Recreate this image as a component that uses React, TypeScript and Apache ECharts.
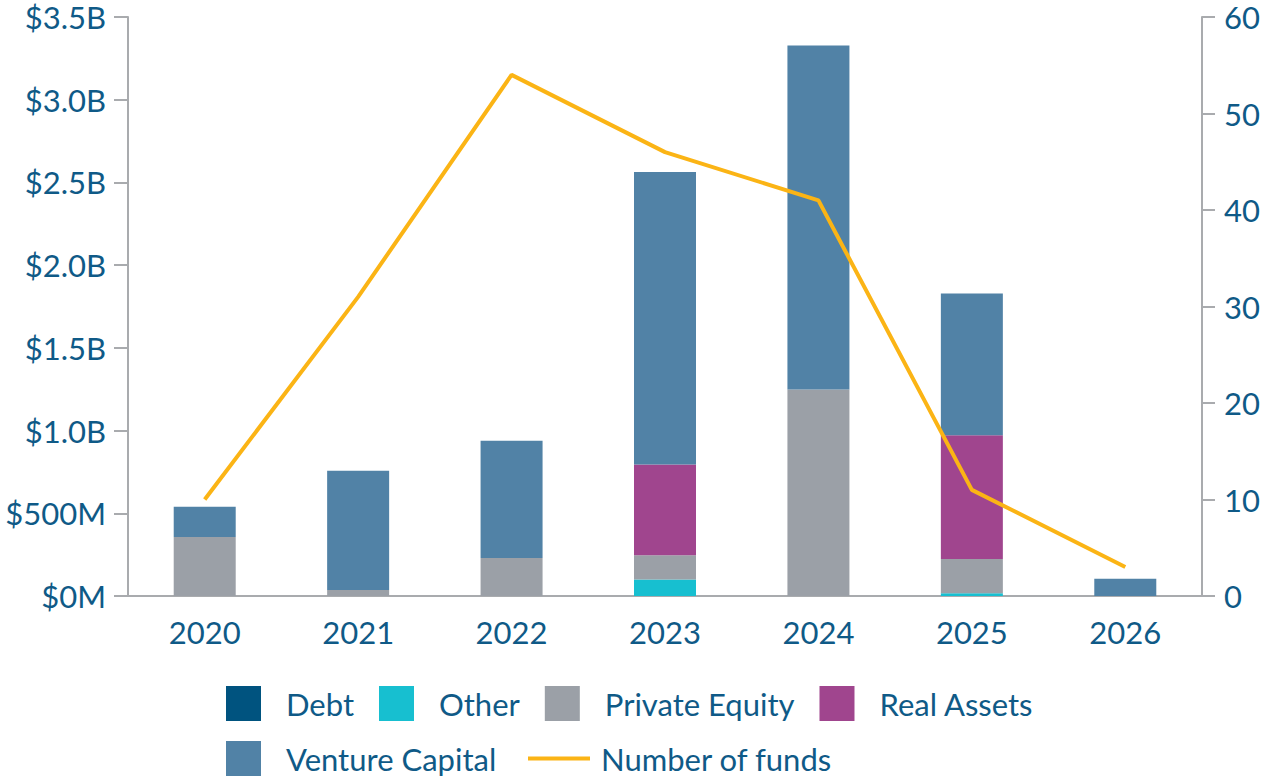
import React, { useEffect, useRef } from "react";
import * as echarts from "echarts";

const years = ["2020", "2021", "2022", "2023", "2024", "2025", "2026"];
// values in $ billions
const debt = [0, 0, 0, 0, 0, 0, 0];
const other = [0, 0, 0, 0.099, 0, 0.016, 0];
const privateEquity = [0.357, 0.036, 0.23, 0.147, 1.248, 0.208, 0];
const realAssets = [0, 0, 0, 0.549, 0, 0.748, 0];
const ventureCapital = [0.182, 0.721, 0.709, 1.768, 2.079, 0.857, 0.105];
const numberOfFunds = [10, 31, 54, 46, 41, 11, 3];

const TEXT = "#0f5a87";
const AXIS = "#a9abae";
const FONT = "Lato";

const COLORS = {
  debt: "#00537f",
  other: "#17bfd0",
  pe: "#9ba0a7",
  ra: "#a0458e",
  vc: "#5182a6",
  line: "#fbb415",
};

export default function App() {
  const ref = useRef<HTMLDivElement>(null);
  useEffect(() => {
    document.body.style.margin = "0";
    if (!ref.current) return;
    const chart = echarts.init(ref.current, undefined, { renderer: "svg" });
    const barSeries = (name: string, data: number[], color: string) => ({
      name,
      type: "bar",
      stack: "total",
      data,
      barWidth: 62,
      itemStyle: { color },
      emphasis: { disabled: true },
    });
    const legendText = {
      color: TEXT,
      fontFamily: FONT,
      fontSize: 31,
      lineHeight: 35,
      padding: [0, 0, 0, 20],
    };
    chart.setOption({
      animation: false,
      textStyle: { fontFamily: FONT },
      grid: { left: 128, right: 62, top: 17, bottom: 183, containLabel: false },
      legend: [
        {
          data: ["Debt", "Other", "Private Equity", "Real Assets"],
          left: 226,
          top: 686,
          itemWidth: 35,
          itemHeight: 35,
          itemGap: 25,
          icon: "rect",
          padding: 0,
          textStyle: legendText,
          selectedMode: false,
        },
        {
          data: ["Venture Capital"],
          left: 226,
          top: 741,
          itemWidth: 35,
          itemHeight: 35,
          icon: "rect",
          padding: 0,
          textStyle: legendText,
          selectedMode: false,
        },
        {
          data: [{ name: "Number of funds", icon: "rect" }],
          left: 528,
          top: 741,
          itemWidth: 62,
          itemHeight: 4,
          padding: 0,
          textStyle: { ...legendText, padding: [0, 0, 0, 6] },
          selectedMode: false,
        },
      ],
      xAxis: {
        type: "category",
        data: years,
        axisLine: { lineStyle: { color: AXIS, width: 2 } },
        axisTick: { alignWithLabel: true, length: 15, lineStyle: { color: AXIS, width: 2 } },
        axisLabel: { color: TEXT, fontSize: 31, fontFamily: FONT, margin: 20 },
      },
      yAxis: [
        {
          type: "value",
          min: 0,
          max: 3.5,
          interval: 0.5,
          splitLine: { show: false },
          axisLine: { show: true, lineStyle: { color: AXIS, width: 2 } },
          axisTick: { show: true, length: 14, lineStyle: { color: AXIS, width: 2 } },
          axisLabel: {
            color: TEXT,
            fontSize: 31,
            lineHeight: 28,
            fontFamily: FONT,
            margin: 22,
            formatter: (v: number) =>
              v < 1 ? `$${Math.round(v * 1000)}M` : `$${v.toFixed(1)}B`,
          },
        },
        {
          type: "value",
          min: 0,
          max: 60,
          interval: 10,
          position: "right",
          splitLine: { show: false },
          axisLine: { show: true, lineStyle: { color: AXIS, width: 2 } },
          axisTick: { show: true, length: 13, lineStyle: { color: AXIS, width: 2 } },
          axisLabel: { color: TEXT, fontSize: 31, lineHeight: 28, fontFamily: FONT, margin: 22 },
        },
      ],
      series: [
        barSeries("Debt", debt, COLORS.debt),
        barSeries("Other", other, COLORS.other),
        barSeries("Private Equity", privateEquity, COLORS.pe),
        barSeries("Real Assets", realAssets, COLORS.ra),
        barSeries("Venture Capital", ventureCapital, COLORS.vc),
        {
          name: "Number of funds",
          type: "line",
          yAxisIndex: 1,
          data: numberOfFunds,
          symbol: "none",
          z: 10,
          itemStyle: { color: COLORS.line },
          lineStyle: { color: COLORS.line, width: 4 },
          emphasis: { disabled: true },
        },
      ],
    });
    return () => chart.dispose();
  }, []);
  return <div ref={ref} style={{ width: 1264, height: 779 }} />;
}
